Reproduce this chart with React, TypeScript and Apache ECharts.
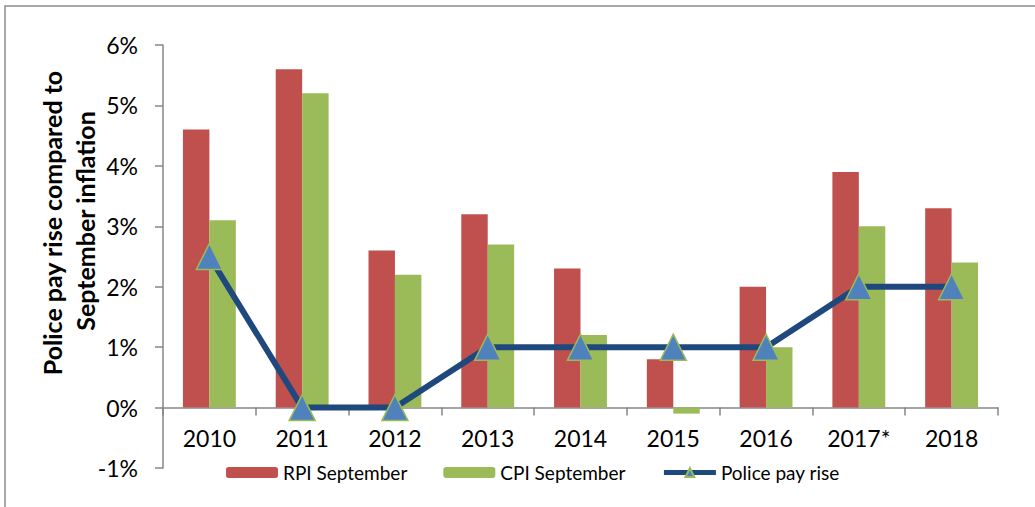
import React, { useEffect, useRef } from "react";
import * as echarts from "echarts";

const categories = ["2010", "2011", "2012", "2013", "2014", "2015", "2016", "2017*", "2018"];
const rpiSeptember = [4.6, 5.6, 2.6, 3.2, 2.3, 0.8, 2.0, 3.9, 3.3];
const cpiSeptember = [3.1, 5.2, 2.2, 2.7, 1.2, -0.1, 1.0, 3.0, 2.4];
const policePayRise = [2.5, 0, 0, 1, 1, 1, 1, 2, 2];
const yTitleLines = ["Police pay rise compared to", "September inflation"];

const FONT = "Lato, 'Liberation Sans', sans-serif";
const Y_MIN = -1;
const Y_MAX = 6;
const GRID_TOP = 45;
const GRID_BOTTOM = 39;
const CHART_H = 507;

export default function App() {
  const ref = useRef<HTMLDivElement>(null);
  useEffect(() => {
    document.body.style.margin = "0";
    const chart = echarts.init(ref.current!, null, { renderer: "svg" });
    const plotH = CHART_H - GRID_TOP - GRID_BOTTOM;
    const zeroOffset = -(plotH * (0 - Y_MIN)) / (Y_MAX - Y_MIN);
    chart.setOption({
      animation: false,
      backgroundColor: "#ffffff",
      textStyle: { fontFamily: FONT },
      grid: { left: 163, right: 37, top: GRID_TOP, bottom: GRID_BOTTOM, containLabel: false },
      graphic: [
        {
          type: "rect",
          shape: { x: 5, y: 6, width: 1200, height: 700 },
          style: { fill: "none", stroke: "#8c8c8c", lineWidth: 1.5 },
          silent: true,
        },
        {
          type: "text",
          x: 52,
          y: 223,
          rotation: Math.PI / 2,
          style: {
            text: yTitleLines[0],
            fontFamily: FONT,
            fontWeight: "bold",
            fontSize: 25,
            fill: "#000",
            align: "center",
            verticalAlign: "middle",
          },
        },
        {
          type: "text",
          x: 85,
          y: 221,
          rotation: Math.PI / 2,
          style: {
            text: yTitleLines[1],
            fontFamily: FONT,
            fontWeight: "bold",
            fontSize: 25,
            fill: "#000",
            align: "center",
            verticalAlign: "middle",
          },
        },
      ],
      legend: {
        left: 226,
        top: 463,
        padding: 0,
        itemWidth: 52,
        itemHeight: 11,
        itemGap: 36,
        lineStyle: { width: 5 },
        textStyle: { fontFamily: FONT, fontSize: 19, color: "#000" },
        data: ["RPI September", "CPI September", "Police pay rise"],
      },
      xAxis: {
        type: "category",
        data: categories,
        position: "bottom",
        offset: zeroOffset,
        axisLine: { onZero: false, lineStyle: { color: "#868686", width: 1.5 } },
        axisTick: { show: true, length: 8, lineStyle: { color: "#868686", width: 1.5 } },
        axisLabel: { margin: 19, fontSize: 23, color: "#000", fontFamily: FONT },
        splitLine: { show: false },
      },
      yAxis: {
        type: "value",
        min: Y_MIN,
        max: Y_MAX,
        interval: 1,
        axisLine: { show: true, lineStyle: { color: "#868686", width: 1.5 } },
        axisTick: { show: true, length: 8, lineStyle: { color: "#868686", width: 1.5 } },
        axisLabel: {
          margin: 25,
          fontSize: 23,
          color: "#000",
          fontFamily: FONT,
          formatter: (v: number) => `${v}%`,
        },
        splitLine: { show: false },
      },
      series: [
        {
          name: "RPI September",
          type: "bar",
          data: rpiSeptember,
          itemStyle: { color: "#C0504D" },
          barGap: "0%",
          barCategoryGap: "43%",
        },
        {
          name: "CPI September",
          type: "bar",
          data: cpiSeptember,
          itemStyle: { color: "#9BBB59" },
          barGap: "0%",
          barCategoryGap: "43%",
        },
        {
          name: "Police pay rise",
          type: "line",
          data: policePayRise,
          symbol: "triangle",
          symbolSize: 26,
          z: 5,
          lineStyle: { color: "#1F497D", width: 6 },
          itemStyle: { color: "#4F81BD", borderColor: "#9BBB59", borderWidth: 1.5 },
        },
      ],
    });
    return () => chart.dispose();
  }, []);
  return <div ref={ref} style={{ width: 1035, height: 507 }} />;
}
